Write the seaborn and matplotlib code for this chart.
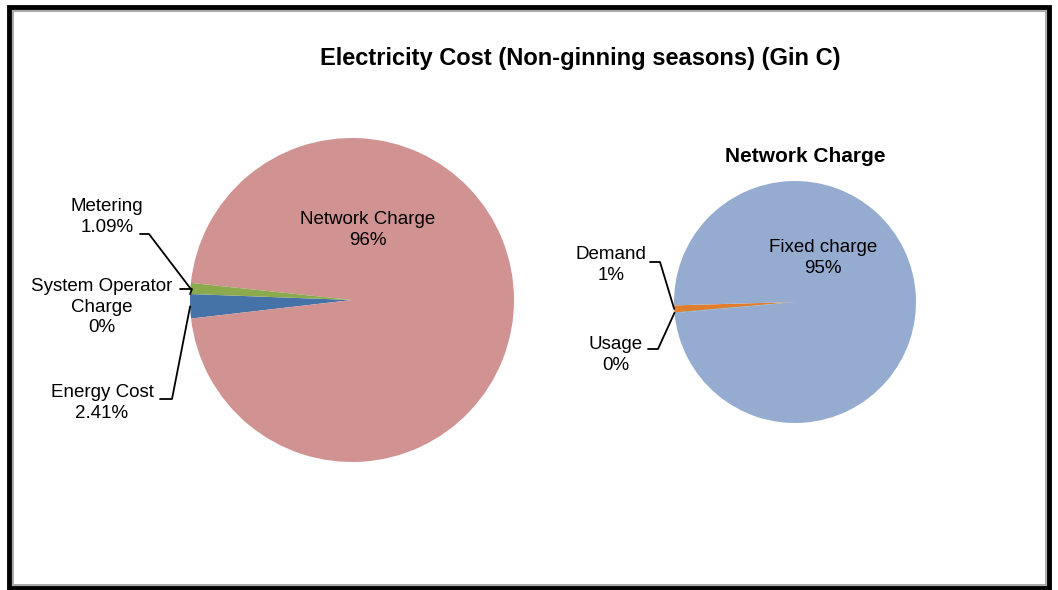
import matplotlib
matplotlib.use("Agg")
import matplotlib.pyplot as plt
import seaborn as sns
import numpy as np
from matplotlib.lines import Line2D
from matplotlib.patches import Rectangle

# data
title = "Electricity Cost (Non-ginning seasons) (Gin C)"
cost_labels = ["Energy Cost", "Network Charge", "Metering", "System Operator\nCharge"]
cost_values = [2.41, 96.49, 1.09, 0.01]
cost_pct = ["2.41%", "96%", "1.09%", "0%"]
cost_colors = ["#4572A7", "#D19292", "#8BAA4E", "#80699B"]

net_title = "Network Charge"
net_labels = ["Demand", "Usage", "Fixed charge"]
net_values = [0.9, 0.08, 95.0]
net_pct = ["1%", "0%", "95%"]
net_colors = ["#E07E2E", "#4198AF", "#95ABD0"]

W, H = 1058, 590
sns.set_theme(style="white")
plt.rcParams['font.family'] = ['Liberation Sans', 'DejaVu Sans']
plt.rcParams['text.color'] = 'black'

fig = plt.figure(figsize=(W / 100, H / 100), dpi=100)
fig.patch.set_facecolor("white")


def fpos(px, py):
    return px / W, 1 - py / H


def pie_axes(cx, cy, r):
    ax = fig.add_axes([(cx - r) / W, 1 - (cy + r) / H, 2 * r / W, 2 * r / H])
    ax.axis("off")
    return ax


def wedge_point(ax, w):
    mid = np.deg2rad((w.theta1 + w.theta2) / 2)
    pt = ax.transData.transform((np.cos(mid), np.sin(mid)))
    return fig.transFigure.inverted().transform(pt)


def leader(ax, w, x0, x1, y):
    a = fpos(x0, y)
    b = fpos(x1, y)
    c = wedge_point(ax, w)
    fig.add_artist(Line2D([a[0], b[0], c[0]], [a[1], b[1], c[1]],
                          transform=fig.transFigure, color="black", lw=1.3))


def label(px, py, txt, **kw):
    x, y = fpos(px, py)
    fig.text(x, y, txt, ha="center", va="center", multialignment="center",
             fontsize=13.5, linespacing=1.28, color="black", **kw)


# main pie
ax1 = pie_axes(352, 300, 162)
w1, _ = ax1.pie(cost_values, colors=cost_colors, startangle=177.9,
                counterclock=True, radius=1, wedgeprops=dict(linewidth=0))
ax1.set_xlim(-1, 1)
ax1.set_ylim(-1, 1)
ax1.set_aspect("auto")

# second pie
ax2 = pie_axes(795, 302, 121)
w2, _ = ax2.pie(net_values, colors=net_colors, startangle=181.6,
                counterclock=True, radius=1, wedgeprops=dict(linewidth=0))
ax2.set_xlim(-1, 1)
ax2.set_ylim(-1, 1)
ax2.set_aspect("auto")

# labels, main pie
label(368, 230, f"{cost_labels[1]}\n{cost_pct[1]}")
label(107, 217, f"{cost_labels[2]}\n{cost_pct[2]}")
leader(ax1, w1[2], 140, 149, 234)
label(102, 307, f"{cost_labels[3]}\n{cost_pct[3]}")
leader(ax1, w1[3], 180, 192, 289)
label(102, 403, f"{cost_labels[0]}\n{cost_pct[0]}")
leader(ax1, w1[0], 160, 172, 399)

# labels, second pie
label(823, 258, f"{net_labels[2]}\n{net_pct[2]}")
label(611, 265, f"{net_labels[0]}\n{net_pct[0]}")
leader(ax2, w2[0], 650, 660, 262)
label(616, 355, f"{net_labels[1]}\n{net_pct[1]}")
leader(ax2, w2[1], 648, 658, 349)

# titles
x, y = fpos(580, 58)
fig.text(x, y, title, ha="center", va="center", fontsize=17, fontweight="bold", color="black")
x, y = fpos(805, 156)
fig.text(x, y, net_title, ha="center", va="center", fontsize=15, fontweight="bold", color="black")

# chart border
fig.add_artist(Rectangle(fpos(9, 588), (W - 18) / W, (588 - 7) / H, transform=fig.transFigure,
                         fill=False, edgecolor="black", lw=3.5))
fig.add_artist(Rectangle(fpos(12.5, 585), (W - 25) / W, (585 - 11) / H, transform=fig.transFigure,
                         fill=False, edgecolor="#999999", lw=1.2))

fig.savefig("out.png", dpi=100)
